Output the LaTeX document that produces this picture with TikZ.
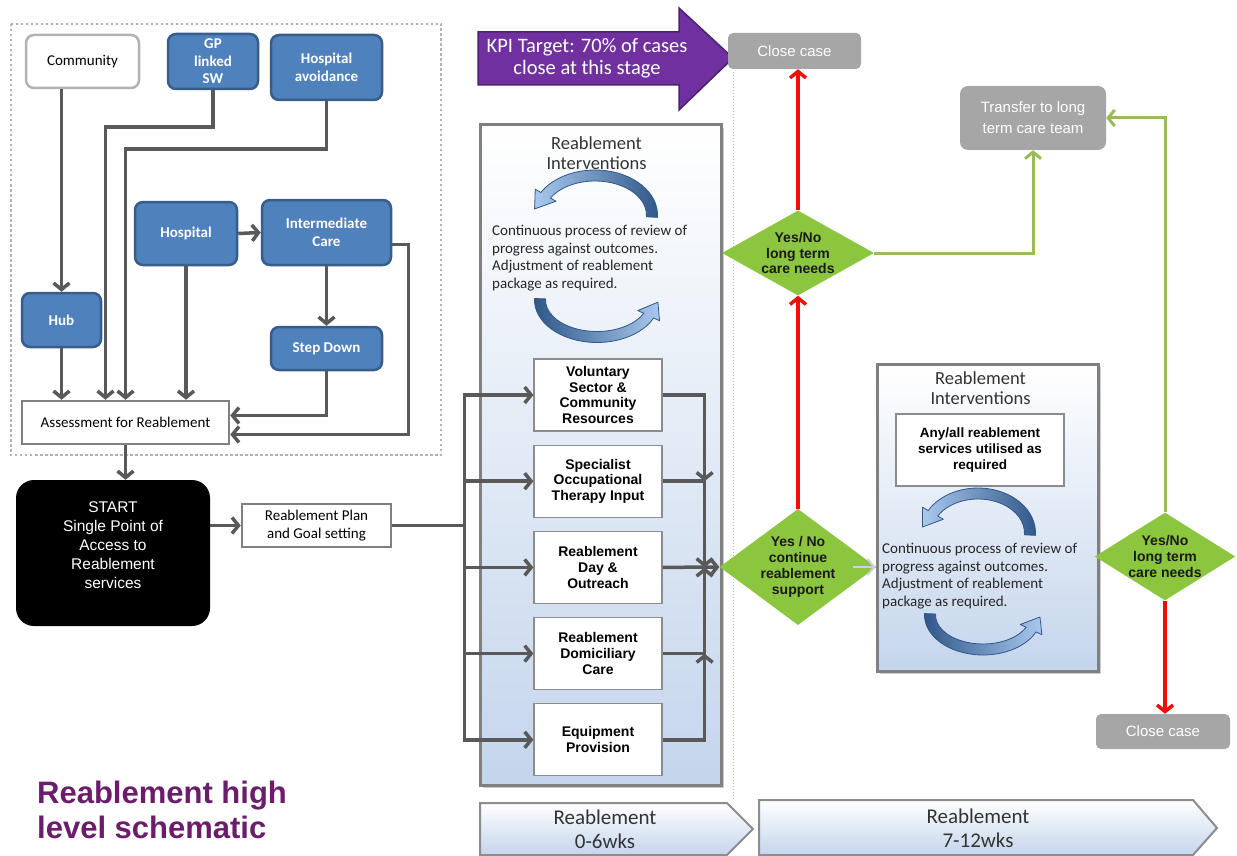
\documentclass[tikz,border=0pt]{standalone}
\usepackage{fontspec}
\setmainfont{Carlito}
\newfontfamily\arialfont{Liberation Sans}
\usepackage{tikz}
\usetikzlibrary{arrows.meta,positioning,calc,shapes.geometric,shadows}
\definecolor{boxblue}{HTML}{4F81BD}
\definecolor{boxedge}{HTML}{385D8A}
\definecolor{linegray}{HTML}{595959}
\definecolor{closegray}{HTML}{A6A6A6}
\definecolor{yesgreen}{HTML}{8CC63F}
\definecolor{leafgreen}{HTML}{9BBB59}
\definecolor{alertred}{HTML}{F20D0D}
\definecolor{kpipurple}{HTML}{7030A0}
\definecolor{kpiedge}{HTML}{4B2270}
\definecolor{titlepurple}{HTML}{6B1D6B}
\definecolor{panelblue}{HTML}{C4D5EC}
\definecolor{cycdark}{HTML}{2F5788}
\definecolor{cyclight}{HTML}{A9C8EE}
\tikzset{
  src/.style={draw=boxedge,line width=2.5pt,fill=boxblue,rounded corners=8pt,text=white,
    align=center,inner sep=2pt,font=\bfseries\fontsize{15}{17.5}\selectfont},
  srcplain/.style={src,draw=black!30,fill=white,text=black,font=\fontsize{15}{17.5}\selectfont},
  plainbox/.style={draw=black!50,line width=2.5pt,fill=white,align=center,inner sep=2pt,
    font=\fontsize{15}{18}\selectfont},
  startbox/.style={fill=black,rounded corners=18pt,text=white,align=center,
    minimum width=194pt,minimum height=146pt,font=\arialfont\fontsize{15.5}{19}\selectfont},
  service/.style={draw=black!45,line width=1.2pt,fill=white,align=center,inner sep=2pt,
    minimum width=128pt,minimum height=72pt,font=\arialfont\bfseries\fontsize{14}{15.7}\selectfont},
  panel/.style={draw=black!50,line width=3pt,top color=white,bottom color=panelblue,
    drop shadow={shadow xshift=3pt,shadow yshift=-3pt,fill=black!40}},
  ptitle/.style={align=center,inner sep=0pt,text=black!80,font=\fontsize{18.5}{20}\selectfont},
  ptext/.style={align=left,inner sep=0pt,text=black!85,font=\fontsize{15}{17.5}\selectfont},
  closebox/.style={fill=closegray,rounded corners=5pt,text=white,align=center,
    font=\arialfont\fontsize{15}{21}\selectfont},
  query/.style={diamond,fill=yesgreen,inner sep=0pt,align=center,text=black!90,
    font=\arialfont\bfseries\fontsize{14}{15.9}\selectfont},
  arr/.style={-{Straight Barb[length=6.5pt,width=16pt]},line width=3.5pt,draw=linegray},
  redarr/.style={arr,draw=alertred},
  greenarr/.style={arr,draw=leafgreen,line width=3pt},
  faintarr/.style={arr,draw=black!18,line width=2pt},
  cycshape/.style={draw=cycdark,line width=0.8pt,line join=round},
  cycdown/.style={cycshape,left color=cyclight,right color=cycdark},
  cycup/.style={cycshape,left color=cycdark,right color=cyclight},
  chev/.style={draw=black!45,line width=2pt,top color=white,bottom color=panelblue},
  phase/.style={align=center,inner sep=0pt,text=black!80,font=\fontsize{21}{24}\selectfont},
  frame/.style={draw=black!30,line width=2.5pt,dash pattern=on 2.5pt off 2.5pt},
  sepline/.style={draw=black!25,line width=1pt,dotted},
  kpiarrow/.style={fill=kpipurple,draw=kpiedge,line width=1.5pt},
  kpitext/.style={align=center,text=white,font=\fontsize{20.5}{22}\selectfont},
  heading/.style={align=left,inner sep=0pt,text=titlepurple,
    font=\arialfont\bfseries\fontsize{31}{35}\selectfont}
}
% review cycle arrow: centre x, centre y, start angle, end angle, x radius, y radius, style
\newcommand{\reviewarc}[7]{%
  \path[#7] ($(#1,#2)+(#3:{#5+5.5} and {#6+5.5})$)
    arc[start angle=#3,end angle=#4,x radius={#5+5.5},y radius={#6+5.5}]
    -- ($(#1,#2)+(#4:{#5+12} and {#6+12})$)
    -- ($(#1,#2)+({#4-22}:{#5+4} and {#6+4})$)
    -- ($(#1,#2)+(#4:{#5-12} and {#6-12})$)
    -- ($(#1,#2)+(#4:{#5-5.5} and {#6-5.5})$)
    arc[start angle=#4,end angle=#3,x radius={#5-5.5},y radius={#6-5.5}]
    -- cycle;}

\begin{document}
\begin{tikzpicture}[x=1pt,y=-1pt]
\useasboundingbox (0,0) rectangle (1237,856);

% referral routes
\draw[frame] (11,24) rectangle (441,455);
\node[srcplain,minimum width=113pt,minimum height=53pt] (community) at (82.5,61.5) {Community};
\node[src,minimum width=90pt,minimum height=55pt] (gp) at (213,61.5) {GP\\linked\\SW};
\node[src,minimum width=111pt,minimum height=65pt] (havoid) at (326.5,67.5) {Hospital\\avoidance};
\node[src,minimum width=102pt,minimum height=63pt] (hosp) at (186,233.5) {Hospital};
\node[src,minimum width=129pt,minimum height=65pt] (intcare) at (326.5,232.5) {Intermediate\\Care};
\node[src,minimum width=79pt,minimum height=54pt] (hub) at (61.5,320) {Hub};
\node[src,minimum width=111pt,minimum height=43pt] (stepdown) at (326.5,348.5) {Step Down};
\node[plainbox,minimum width=207pt,minimum height=43pt] (assess) at (125.5,422.5) {Assessment for Reablement};

\draw[arr] (hub.north |- community.south) -- (hub.north);
\draw[arr] (hub.south) -- (hub.south |- assess.north);
\draw[arr] (gp.south) -- ++(0,37) -| ([xshift=-20pt]assess.north);
\draw[arr] (havoid.south) -- ++(0,48) -| (assess.north);
\draw[arr] (hosp.south) -- (hosp.south |- assess.north);
\draw[arr] (hosp.east) -- (intcare.west);
\draw[arr] (intcare.south) -- (stepdown.north);
\draw[arr] (stepdown.south) |- ([yshift=7pt]assess.east);
\draw[arr] ([yshift=-12pt]intcare.east) -- ++(16,0) |- ([yshift=-12pt]assess.east);

% single point of access
\node[startbox] (start) at (113,553) {START\\Single Point of\\Access to\\Reablement\\services\\[-3pt]\mbox{}};
\node[plainbox,minimum width=149pt,minimum height=43pt] (plan) at (316.5,525.5) {Reablement Plan\\and Goal setting};
\draw[arr] (assess.south) -- (assess.south |- start.north);
\draw[arr] (start.east |- plan.west) -- (plan.west);

% KPI
\path[kpiarrow] (478,32) -- (679,32) -- (679,8) -- (733,58) -- (679,110) -- (679,85) -- (478,85) -- cycle;
\node[kpitext] (kpi) at (587,58) {KPI Target: 70\% of cases\\close at this stage};
\draw[sepline] (733,72) -- (733,800);

% first stage, 0-6 weeks
\node[panel,minimum width=241pt,minimum height=660pt] (lpanel) at (600.5,455) {};
\node[ptitle,below=13pt of lpanel.north,xshift=-4pt] (ltitle) {Reablement\\Interventions};
\reviewarc{595}{215}{3}{-150}{57}{39.5}{cycdown}
\node[ptext,anchor=north west] (ltext) at (492,225) {Continuous process of review of\\progress against outcomes.\\Adjustment of reablement\\package as required.};
\reviewarc{597}{300}{182}{25}{57}{37}{cycup}

\node[service] (vol) at (598,395) {Voluntary\\Sector \&\\Community\\Resources};
\node[service,below=13pt of vol] (spec) {Specialist\\Occupational\\Therapy Input};
\node[service,below=13pt of spec] (day) {Reablement\\Day \&\\Outreach};
\node[service,below=13pt of day] (dom) {Reablement\\Domiciliary\\Care};
\node[service,below=13pt of dom] (equip) {Equipment\\Provision};

\coordinate (fork) at ([xshift=72pt]plan.east);
\coordinate (merge) at ([xshift=42pt]day.east);
\draw[line width=3.5pt,draw=linegray] (plan.east) -- (fork);
\draw[arr] (fork) |- (vol.west);
\draw[arr] (fork) |- (spec.west);
\draw[arr] (fork) |- (day.west);
\draw[arr] (fork) |- (dom.west);
\draw[arr] (fork) |- (equip.west);
\draw[arr] (vol.east) -| (merge |- spec.east);
\draw[arr] (spec.east) -| (merge);
\draw[arr] (equip.east) -| (merge |- dom.east);
\draw[arr] (dom.east) -| (merge);

% decisions
\node[query,minimum width=152pt,minimum height=85pt,aspect=1.79] (dup) at (798,253) {Yes/No\\long term\\care needs};
\node[query,minimum width=154pt,minimum height=114pt,aspect=1.35] (dmid) at (798,567) {Yes / No\\continue\\reablement\\support};
\node[closebox,minimum width=133pt,minimum height=36pt] (closetop) at (794.5,51) {Close case};
\node[closebox,minimum width=146pt,minimum height=64pt,rounded corners=8pt] (transfer) at (1033,118) {Transfer to long\\term care team};
\draw[arr] (day.east) -- (dmid.west);
\draw[redarr] (dmid.north) -- (dup.south);
\draw[redarr] (dup.north) -- (dup.north |- closetop.south);
\draw[greenarr] (dup.east) -| (transfer.south);

% second stage, 7-12 weeks
\node[panel,minimum width=221pt,minimum height=307pt] (rpanel) at (987.5,517.5) {};
\node[ptitle,below=9pt of rpanel.north,xshift=-7pt] (rtitle) {Reablement\\Interventions};
\node[service,minimum width=168pt,minimum height=72pt,font=\arialfont\bfseries\fontsize{13.5}{15.7}\selectfont] (anybox) at (980,450) {Any/all reablement\\services utilised as\\required};
\reviewarc{978}{533}{3}{-150}{52}{39.5}{cycdown}
\node[ptext,anchor=north west] (rtext) at (882,543) {Continuous process of review of\\progress against outcomes.\\Adjustment of reablement\\package as required.};
\reviewarc{983}{615}{182}{25}{53}{34.5}{cycup}
\draw[faintarr] ([xshift=-24pt]dmid.east) -- (rpanel.west |- dmid.east);

\node[query,minimum width=140pt,minimum height=87pt,aspect=1.6] (dright) at (1165,556.5) {Yes/No\\long term\\care needs};
\node[closebox,minimum width=134pt,minimum height=35pt] (closebot) at (1163,731.5) {Close case};
\draw[greenarr] (dright.north) |- (transfer.east);
\draw[redarr] (dright.south) -- (dright.south |- closebot.north);

% phase bar
\path[chev] (480,803) -- (727,803) -- (753,829) -- (727,855) -- (480,855) -- cycle;
\node[phase] (wk1) at (605,829) {Reablement\\0-6wks};
\path[chev] (759,800) -- (1193,800) -- (1217,828) -- (1193,855) -- (759,855) -- cycle;
\node[phase] (wk2) at (978,828) {Reablement\\7-12wks};

\node[heading,anchor=west] (heading) at (37,810) {Reablement high\\level schematic};
\end{tikzpicture}
\end{document}
